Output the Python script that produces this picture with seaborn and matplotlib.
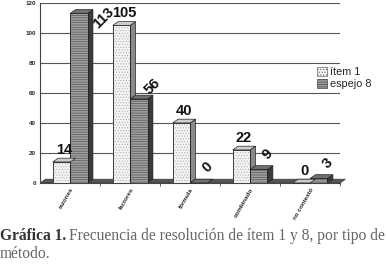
import matplotlib
matplotlib.use("Agg")
import matplotlib.pyplot as plt
import seaborn as sns
import pandas as pd
from matplotlib.patches import Polygon, Rectangle, Patch

# datos
categorias = ["razones", "factores", "fórmula", "combinado", "no contestó"]
item1 = [14, 105, 40, 22, 0]
espejo8 = [113, 56, 0, 9, 3]
series = ["ítem 1", "espejo 8"]
yticks = [0, 20, 40, 60, 80, 100, 120]

df = pd.DataFrame({
    "metodo": categorias * 2,
    "serie": [series[0]] * 5 + [series[1]] * 5,
    "valor": item1 + espejo8,
})

sns.set_style("white")
plt.rcParams["font.family"] = ["Liberation Sans", "DejaVu Sans"]
plt.rcParams["hatch.linewidth"] = 0.5

fig = plt.figure(figsize=(3.86, 2.64), dpi=100)
ax = fig.add_axes([0.104, 0.307, 0.777, 0.682])

colores = {"ítem 1": "#f4f4f4", "espejo 8": "#a0a0a0"}
sns.barplot(data=df, x="metodo", y="valor", hue="serie", palette=colores,
            width=0.58, ax=ax, legend=False, linewidth=0)

ax.set_xlim(-0.5, 4.5)
ax.set_ylim(0, 120)
ax.set_yticks(yticks)
ax.set_yticklabels([str(t) for t in yticks], fontsize=4.5, fontweight="bold")
ax.yaxis.grid(True, color="#555555", linewidth=0.8)
ax.set_axisbelow(True)
for s in ["top", "right"]:
    ax.spines[s].set_visible(False)
for s in ["left", "bottom"]:
    ax.spines[s].set_color("#444444")
    ax.spines[s].set_linewidth(0.8)
ax.tick_params(axis="y", length=2, pad=1, color="#444444")
ax.set_xticks(range(5))
ax.set_xticks([0.5, 1.5, 2.5, 3.5, 4.5], minor=True)
ax.tick_params(axis="x", which="major", length=0, pad=3)
ax.tick_params(axis="x", which="minor", length=2, color="#444444", bottom=True)
ax.set_xticklabels(categorias, rotation=60, ha="right", fontsize=4.5,
                   fontweight="bold", rotation_mode="anchor")
ax.set_xlabel("")
ax.set_ylabel("")

# piso
dx, dy = 0.09, 2.5
ax.add_patch(Polygon([(-0.5, 0), (4.5, 0), (4.5 + dx, dy), (-0.5 + dx, dy)],
                     closed=True, facecolor="#555555", edgecolor="#333333",
                     linewidth=0.5, zorder=1.5, clip_on=False))

hatches = {0: "......", 1: "-------"}
hcolor = {0: "#b0b0b0", 1: "#555555"}
lados = {0: "#8a8a8a", 1: "#3a3a3a"}
techos = {0: "#cccccc", 1: "#707070"}
valores = [item1, espejo8]
for k, cont in enumerate(ax.containers):
    for i, p in enumerate(cont.patches):
        x0, w, h = p.get_x(), p.get_width(), p.get_height()
        p.set_hatch(hatches[k])
        p.set_edgecolor(hcolor[k])
        p.set_zorder(3)
        ax.add_patch(Rectangle((x0, 0), w, h, fill=False, edgecolor="#222222",
                               linewidth=0.6, zorder=3.05))
        # cara lateral y superior
        ax.add_patch(Polygon([(x0 + w, 0), (x0 + w + dx, dy), (x0 + w + dx, h + dy), (x0 + w, h)],
                             closed=True, facecolor=lados[k], edgecolor="#222222",
                             linewidth=0.5, zorder=2.9))
        ax.add_patch(Polygon([(x0, h), (x0 + w, h), (x0 + w + dx, h + dy), (x0 + dx, h + dy)],
                             closed=True, facecolor=techos[k], edgecolor="#222222",
                             linewidth=0.5, zorder=3.1, clip_on=False))
        v = valores[k][i]
        if k == 1:
            tx, ty = x0 + w + dx - 0.02, h + dy - 1
            if ty > 100:
                tx, ty = tx + 0.14, 101
            elif h < 20:
                tx, ty = tx - 0.03, h + dy + 2.5
            ax.text(tx, ty, str(v), rotation=45,
                    ha="left", va="bottom", rotation_mode="anchor",
                    fontsize=10.5, fontweight="bold", color="#111111", zorder=5, clip_on=False)
        else:
            ax.text(x0 + w / 2 + dx / 2, h + dy + 1, str(v), ha="center", va="bottom",
                    fontsize=10.5, fontweight="bold", color="#111111", zorder=5)

# leyenda
hs = [Patch(facecolor=colores[series[0]], edgecolor="#666666", hatch="......", linewidth=0.5),
      Patch(facecolor=colores[series[1]], edgecolor="#444444", hatch="-------", linewidth=0.5)]
fig.legend(hs, series, loc="upper left", bbox_to_anchor=(0.805, 0.772), frameon=False,
           fontsize=7.8, handlelength=0.9, handleheight=0.9, handletextpad=0.3,
           labelspacing=0.15, borderpad=0.1)

# pie de figura
fig.canvas.draw()
r = fig.canvas.get_renderer()
serif = ["Liberation Serif", "DejaVu Serif"]
t1 = fig.text(0.0, 0.09, "Gráfica 1.", fontsize=11.2, fontweight="bold", color="#333333",
              family=serif, va="baseline")
bb = t1.get_window_extent(r)
fig.text(bb.x1 / fig.bbox.width + 0.008, 0.09,
         "Frecuencia de resolución de ítem 1 y 8, por tipo de", fontsize=11.2,
         color="#666666", family=serif, va="baseline")
fig.text(0.0, 0.022, "método.", fontsize=11.2, color="#666666", family=serif, va="baseline")

fig.savefig("out.png", dpi=100)
